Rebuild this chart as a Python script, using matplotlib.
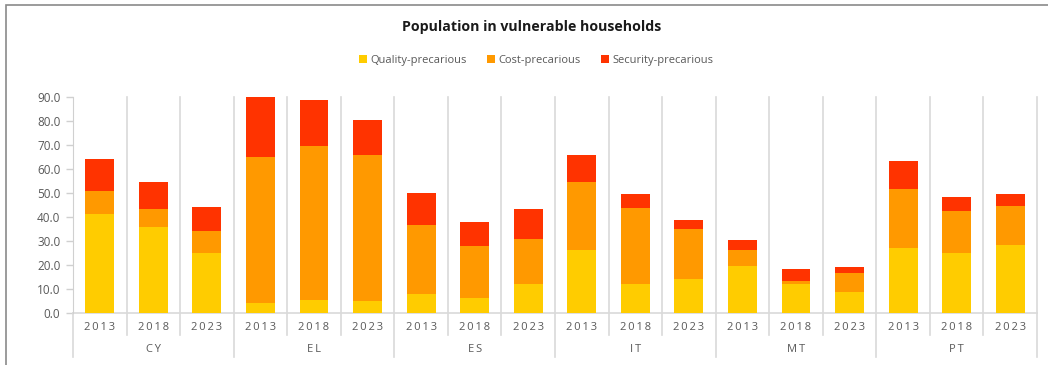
import matplotlib
matplotlib.use("Agg")
import matplotlib.pyplot as plt
from matplotlib.patches import Rectangle, Patch
from matplotlib.transforms import blended_transform_factory

countries = ["CY", "EL", "ES", "IT", "MT", "PT"]
years = ["2013", "2018", "2023"]

# per-segment values (order: country, year)
quality = [41.4, 35.8, 25.1,
           4.2, 5.3, 4.8,
           7.9, 6.4, 11.9,
           26.1, 12.2, 14.2,
           19.6, 12.2, 8.9,
           27.2, 24.8, 28.2]
cost = [9.3, 7.7, 9.2,
        60.8, 64.1, 60.9,
        28.6, 21.6, 19.1,
        28.3, 31.5, 20.6,
        6.5, 1.0, 7.8,
        24.5, 17.8, 16.5]
security = [13.5, 10.9, 9.7,
            25.0, 19.3, 14.8,
            13.6, 10.0, 12.5,
            11.4, 6.0, 4.1,
            4.4, 5.0, 2.6,
            11.8, 5.9, 4.9]

series_names = ["Quality-precarious", "Cost-precarious", "Security-precarious"]
colors = ["#FFCC00", "#FF9900", "#FF3300"]

W, H = 1048, 365
fig = plt.figure(figsize=(W / 100, H / 100), dpi=100)
plt.rcParams["font.family"] = ["Open Sans", "DejaVu Sans"]

# outer chart frame (cropped)
fig.patches.append(Rectangle((6 / W, -0.1), 1.2, 1 - 5 / H + 0.1, transform=fig.transFigure,
                             fill=False, edgecolor="#8a8a8a", linewidth=1.2))

left, right, top, bottom = 73, 1037, 97, 313
ax = fig.add_axes([left / W, 1 - bottom / H, (right - left) / W, (bottom - top) / H])

n = len(countries) * len(years)
x = list(range(n))
bw = 0.54
b2 = [q + c for q, c in zip(quality, cost)]
ax.bar(x, quality, bw, color=colors[0], label=series_names[0], zorder=3)
ax.bar(x, cost, bw, bottom=quality, color=colors[1], label=series_names[1], zorder=3)
ax.bar(x, security, bw, bottom=b2, color=colors[2], label=series_names[2], zorder=3)

ax.set_xlim(-0.5, n - 0.5)
ax.set_ylim(0, 90)
ax.set_yticks(range(0, 91, 10))
ax.set_yticklabels([f"{v:.1f}" for v in range(0, 91, 10)], color="#595959", fontsize=8.5)
ax.tick_params(axis="y", length=5, color="#d0d0d0", width=1, pad=4)
ax.tick_params(axis="x", length=0)
ax.set_xticks([])
for s in ["top", "right", "bottom"]:
    ax.spines[s].set_visible(False)
ax.spines["left"].set_color("#d0d0d0")
ax.spines["left"].set_bounds(0, 90)

tr = blended_transform_factory(ax.transData, ax.transAxes)
gc = "#d9d9d9"
ax.plot([-0.5, n - 0.5], [0, 0], color=gc, lw=1.2, zorder=2, clip_on=False)
ax.plot([-0.5, -0.5], [0, -0.205], color=gc, lw=1.2, transform=tr, clip_on=False)
for i in range(1, n + 1):
    xb = i - 0.5
    if i % 3 == 0:
        ax.plot([xb, xb], [1, -0.205], color=gc, lw=1.2, transform=tr, clip_on=False, zorder=1)
    else:
        ax.plot([xb, xb], [1, -0.102], color=gc, lw=1.2, transform=tr, clip_on=False, zorder=1)

sp = "\u2009"
for i in range(n):
    ax.text(i, -0.068, sp.join(years[i % 3]), transform=tr, ha="center", va="center",
            fontsize=8, color="#595959")
for g, c in enumerate(countries):
    ax.text(3 * g + 1, -0.17, sp.join(c), transform=tr, ha="center", va="center",
            fontsize=8, color="#595959")

fig.text(532 / W, 1 - 27 / H, "Population in vulnerable households", ha="center", va="center",
         fontsize=10.2, fontweight="bold", color="#1a1a1a")

handles = [Patch(facecolor=c, edgecolor="none") for c in colors]
fig.legend(handles, series_names, loc="center", bbox_to_anchor=(536 / W, 1 - 60 / H), ncol=3,
           frameon=False, fontsize=8, labelcolor="#595959", handlelength=0.75, handleheight=0.75,
           handletextpad=0.3, columnspacing=1.8)

fig.savefig("out.png", dpi=100)
